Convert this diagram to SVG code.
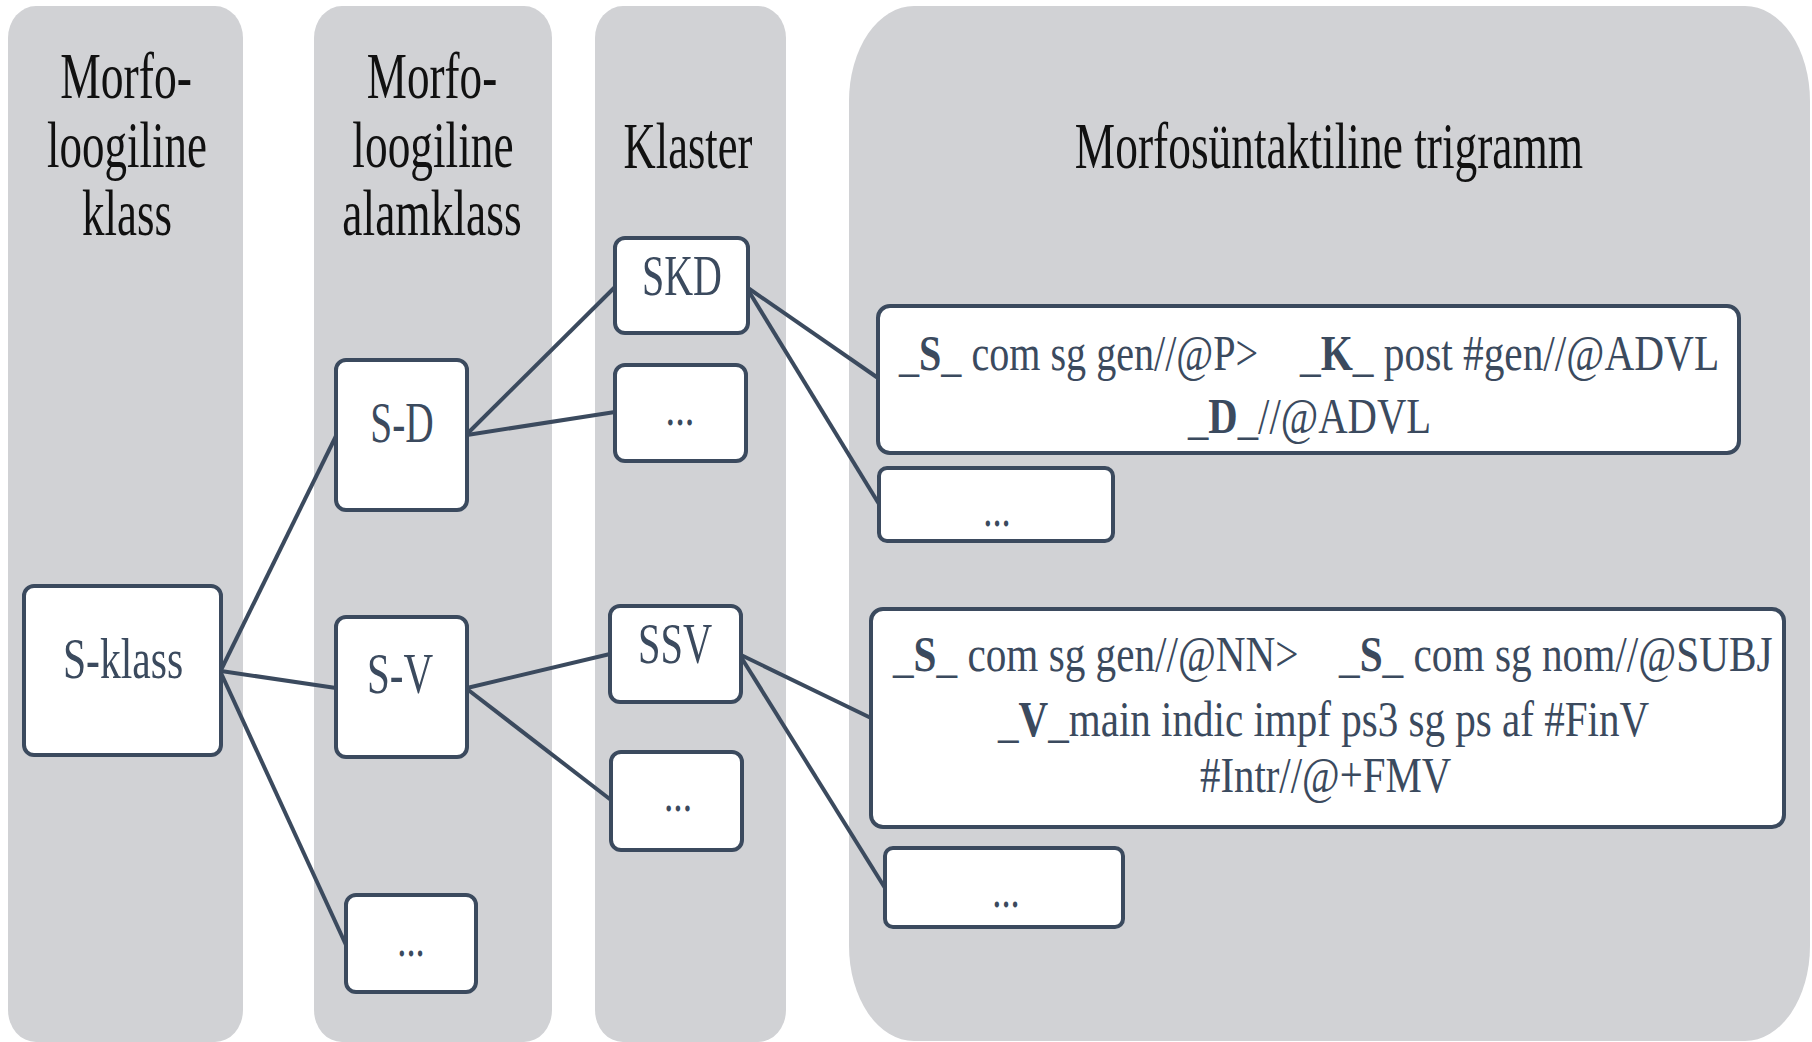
<svg xmlns="http://www.w3.org/2000/svg" width="1812" height="1042" viewBox="0 0 1812 1042">
<style>
.col{fill:#d1d2d5}
.box{fill:#fff;stroke:#3b4a5e;stroke-width:4}
.hd{font-family:"Liberation Serif","Times New Roman",serif;font-size:65px;fill:#111;text-anchor:middle}
.lb{font-family:"Liberation Serif","Times New Roman",serif;font-size:58px;fill:#3b4a5e;text-anchor:middle}
.tg{font-family:"Liberation Serif","Times New Roman",serif;font-size:50px;fill:#3b4a5e}
.dt{font-family:"Liberation Serif","Times New Roman",serif;font-size:50px;fill:#3b4a5e;text-anchor:middle}
.b{font-weight:bold}
.edge{stroke:#3b4a5e;stroke-width:4;fill:none}
</style>
<rect width="1812" height="1042" fill="#fff"/>
<g id="columns">
<rect class="col" x="8" y="6" width="235" height="1036" rx="28" ry="32"/>
<rect class="col" x="314" y="6" width="238" height="1036" rx="28" ry="32"/>
<rect class="col" x="595" y="6" width="191" height="1036" rx="28" ry="32"/>
<rect class="col" x="849" y="6" width="961" height="1035" rx="65" ry="95"/>
</g>
<g id="headers">
<text class="hd" transform="translate(126,98) scale(0.72,1)" textLength="183" lengthAdjust="spacingAndGlyphs">Morfo-</text>
<text class="hd" transform="translate(127,167) scale(0.72,1)" textLength="222" lengthAdjust="spacingAndGlyphs">loogiline</text>
<text class="hd" transform="translate(127,235) scale(0.72,1)" textLength="125" lengthAdjust="spacingAndGlyphs">klass</text>
<text class="hd" transform="translate(432,98) scale(0.72,1)" textLength="181" lengthAdjust="spacingAndGlyphs">Morfo-</text>
<text class="hd" transform="translate(433,167) scale(0.72,1)" textLength="224" lengthAdjust="spacingAndGlyphs">loogiline</text>
<text class="hd" transform="translate(432,235) scale(0.72,1)" textLength="249" lengthAdjust="spacingAndGlyphs">alamklass</text>
<text class="hd" transform="translate(688,168) scale(0.72,1)" textLength="179" lengthAdjust="spacingAndGlyphs">Klaster</text>
<text class="hd" transform="translate(1329,168) scale(0.72,1)" textLength="706" lengthAdjust="spacingAndGlyphs">Morfosüntaktiline trigramm</text>
</g>
<g id="connectors">
<line class="edge" x1="221" y1="670" x2="336" y2="436"/>
<line class="edge" x1="221" y1="671" x2="336" y2="688"/>
<line class="edge" x1="221" y1="673" x2="346" y2="945"/>
<line class="edge" x1="467" y1="434" x2="615" y2="287"/>
<line class="edge" x1="467" y1="435" x2="615" y2="412"/>
<line class="edge" x1="467" y1="688" x2="610" y2="654"/>
<line class="edge" x1="467" y1="689" x2="611" y2="800"/>
<line class="edge" x1="748" y1="288" x2="878" y2="378"/>
<line class="edge" x1="748" y1="290" x2="879" y2="504"/>
<line class="edge" x1="741" y1="655" x2="871" y2="718"/>
<line class="edge" x1="741" y1="657" x2="885" y2="888"/>
</g>
<g id="n-sklass">
<rect class="box" x="24" y="586" width="197" height="169" rx="10"/>
<text class="lb" transform="translate(123,678) scale(0.72,1)" textLength="167" lengthAdjust="spacingAndGlyphs">S-klass</text>
</g>
<g id="n-sd">
<rect class="box" x="336" y="360" width="131" height="150" rx="10"/>
<text class="lb" transform="translate(402,442) scale(0.72,1)" textLength="88" lengthAdjust="spacingAndGlyphs">S-D</text>
</g>
<g id="n-sv">
<rect class="box" x="336" y="617" width="131" height="140" rx="10"/>
<text class="lb" transform="translate(400,693) scale(0.72,1)" textLength="92" lengthAdjust="spacingAndGlyphs">S-V</text>
</g>
<g id="n-col2-more">
<rect class="box" x="346" y="895" width="130" height="97" rx="10"/>
<text class="dt" transform="translate(411,956) scale(0.72,1)" textLength="38" lengthAdjust="spacingAndGlyphs">...</text>
</g>
<g id="n-skd">
<rect class="box" x="615" y="238" width="133" height="95" rx="10"/>
<text class="lb" transform="translate(682,295) scale(0.72,1)" textLength="111" lengthAdjust="spacingAndGlyphs">SKD</text>
</g>
<g id="n-col3-more1">
<rect class="box" x="615" y="365" width="131" height="96" rx="10"/>
<text class="dt" transform="translate(680,425) scale(0.72,1)" textLength="40" lengthAdjust="spacingAndGlyphs">...</text>
</g>
<g id="n-ssv">
<rect class="box" x="610" y="606" width="131" height="96" rx="10"/>
<text class="lb" transform="translate(675,663) scale(0.72,1)" textLength="103" lengthAdjust="spacingAndGlyphs">SSV</text>
</g>
<g id="n-col3-more2">
<rect class="box" x="611" y="752" width="131" height="98" rx="10"/>
<text class="dt" transform="translate(678,811) scale(0.72,1)" textLength="39" lengthAdjust="spacingAndGlyphs">...</text>
</g>
<g id="n-tri1">
<rect class="box" x="878" y="306" width="861" height="147" rx="12"/>
<text class="tg" transform="translate(899,370) scale(0.8,1)" textLength="449" lengthAdjust="spacingAndGlyphs">_<tspan class="b">S</tspan>_ com sg gen//@P&gt;</text>
<text class="tg" transform="translate(1300,370) scale(0.8,1)" textLength="524" lengthAdjust="spacingAndGlyphs">_<tspan class="b">K</tspan>_ post #gen//@ADVL</text>
<text class="tg" transform="translate(1188,433) scale(0.8,1)" textLength="304" lengthAdjust="spacingAndGlyphs">_<tspan class="b">D</tspan>_//@ADVL</text>
</g>
<g id="n-tri1-more">
<rect class="box" x="879" y="468" width="234" height="73" rx="8"/>
<text class="dt" transform="translate(997,526) scale(0.72,1)" textLength="38" lengthAdjust="spacingAndGlyphs">...</text>
</g>
<g id="n-tri2">
<rect class="box" x="871" y="609" width="913" height="218" rx="12"/>
<text class="tg" transform="translate(893,671) scale(0.8,1)" textLength="507" lengthAdjust="spacingAndGlyphs">_<tspan class="b">S</tspan>_ com sg gen//@NN&gt;</text>
<text class="tg" transform="translate(1339,671) scale(0.8,1)" textLength="542" lengthAdjust="spacingAndGlyphs">_<tspan class="b">S</tspan>_ com sg nom//@SUBJ</text>
<text class="tg" transform="translate(998,736) scale(0.8,1)" textLength="814" lengthAdjust="spacingAndGlyphs">_<tspan class="b">V</tspan>_main indic impf ps3 sg ps af #FinV</text>
<text class="tg" transform="translate(1200,792) scale(0.8,1)" textLength="314" lengthAdjust="spacingAndGlyphs">#Intr//@+FMV</text>
</g>
<g id="n-tri2-more">
<rect class="box" x="885" y="848" width="238" height="79" rx="8"/>
<text class="dt" transform="translate(1006,907) scale(0.72,1)" textLength="38" lengthAdjust="spacingAndGlyphs">...</text>
</g>
</svg>
